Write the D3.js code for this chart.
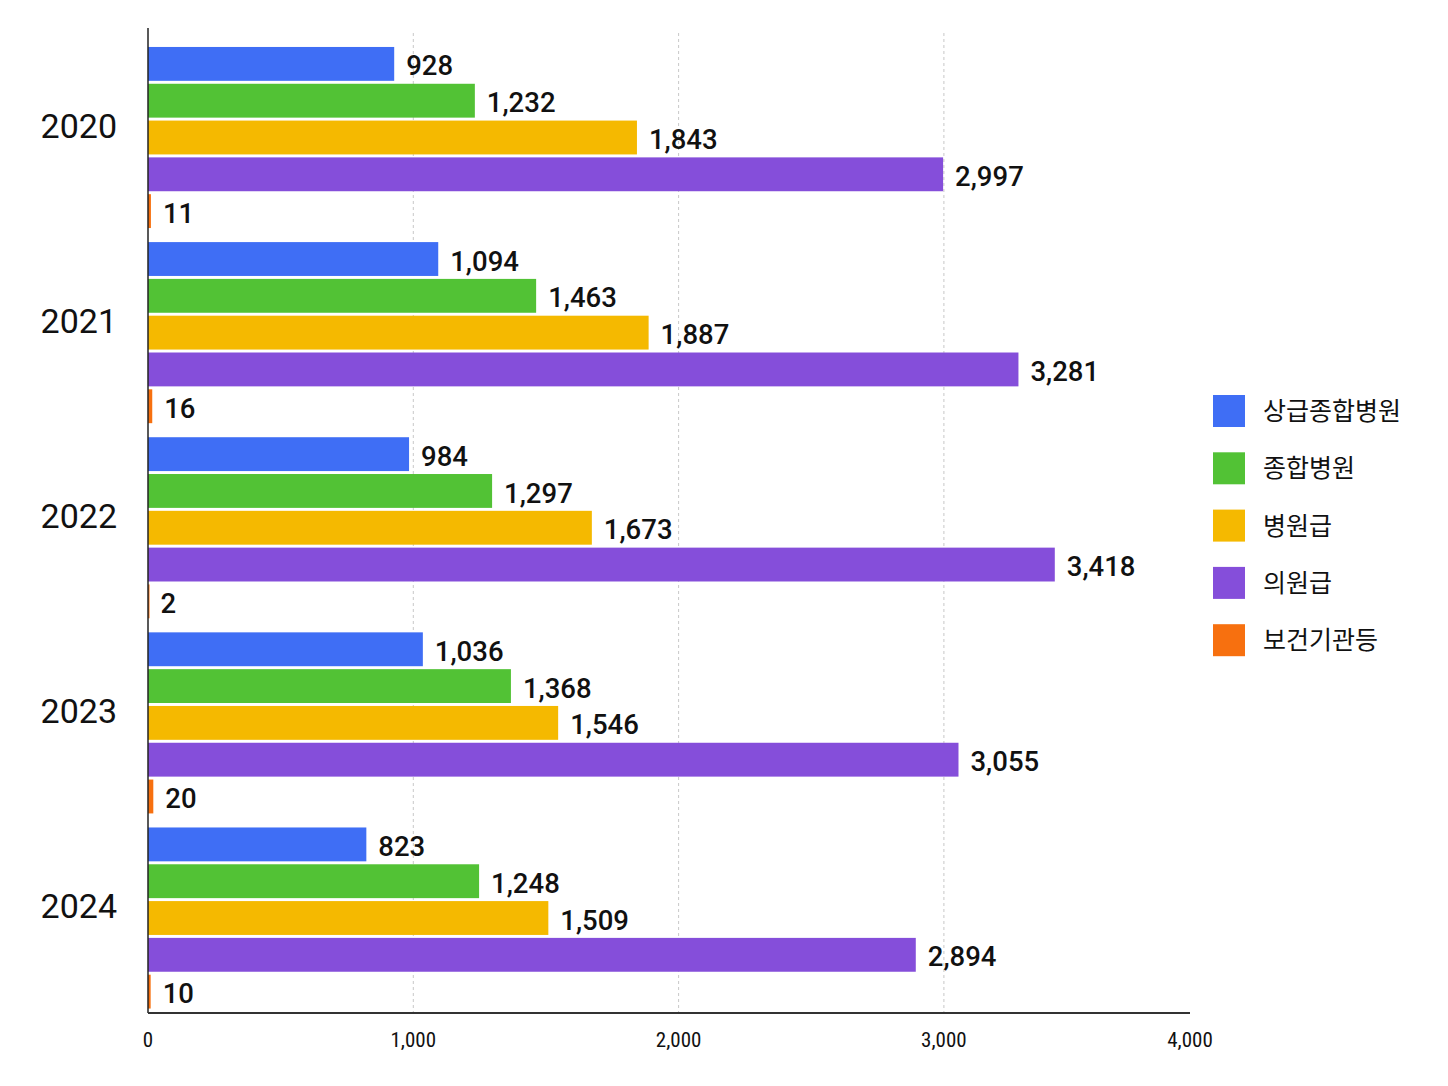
<!DOCTYPE html>
<html>
<head>
<meta charset="utf-8">
<script src="https://cdn.jsdelivr.net/npm/d3@7"></script>
<style>
  body { margin: 0; background: #fff; }
  svg { display: block; }
</style>
</head>
<body>
<svg id="chart" width="1448" height="1086"></svg>
<script>
// data
var years = ["2020", "2021", "2022", "2023", "2024"];
var seriesNames = ["상급종합병원", "종합병원", "병원급", "의원급", "보건기관등"];
var seriesColors = ["#3f6ef5", "#52c235", "#f5b900", "#854eda", "#f7700f"];
var tier1 = [928, 1094, 984, 1036, 823];      // 상급종합병원
var general = [1232, 1463, 1297, 1368, 1248]; // 종합병원
var hospital = [1843, 1887, 1673, 1546, 1509]; // 병원급
var clinic = [2997, 3281, 3418, 3055, 2894];   // 의원급
var publicOrg = [11, 16, 2, 20, 10];          // 보건기관등
var xTicks = [0, 1000, 2000, 3000, 4000];

var seriesValues = [tier1, general, hospital, clinic, publicOrg];

var svg = d3.select("#chart");
// note: "top" is taken by window.top, so plot edges get their own names
var plotLeft = 148, plotTop = 28, plotBottom = 1013, axisEnd = 1190;

var x = d3.scaleLinear().domain([0, 4000]).range([plotLeft, plotLeft + 4 * 265.3]);

var y0 = d3.scaleBand().domain(years).range([plotTop, plotBottom])
  .paddingInner(0.072).paddingOuter(0.06).align(0.81);
var y1 = d3.scaleBand().domain(d3.range(seriesNames.length)).range([0, y0.bandwidth()])
  .paddingInner(0.08).paddingOuter(0);

var fmt = d3.format(",");

// gridlines
svg.append("g")
  .selectAll("line")
  .data(xTicks.filter(function(t) { return t > 0 && x(t) < axisEnd; }))
  .enter().append("line")
  .attr("x1", function(d) { return x(d); })
  .attr("x2", function(d) { return x(d); })
  .attr("y1", plotTop + 5).attr("y2", plotBottom)
  .attr("stroke", "#c8c8c8").attr("stroke-width", 1)
  .attr("stroke-dasharray", "3,3");

// bars
var groups = svg.append("g").selectAll("g")
  .data(years).enter().append("g")
  .attr("transform", function(d) { return "translate(0," + y0(d) + ")"; });

groups.each(function(year, yi) {
  var g = d3.select(this);
  seriesValues.forEach(function(vals, si) {
    var v = vals[yi];
    g.append("rect")
      .attr("x", x(0))
      .attr("y", y1(si))
      .attr("width", Math.max(x(v) - x(0), 1.5))
      .attr("height", y1.bandwidth())
      .attr("fill", seriesColors[si]);
    g.append("text")
      .attr("x", x(v) + 12)
      .attr("y", y1(si) + y1.bandwidth() / 2)
      .attr("dy", "0.42em")
      .attr("font-family", "Roboto, 'Noto Sans', sans-serif")
      .attr("font-weight", 500)
      .attr("font-size", 27.5)
      .attr("fill", "#111")
      .text(fmt(v));
  });
});

// year labels
svg.append("g").selectAll("text")
  .data(years).enter().append("text")
  .attr("x", 117)
  .attr("y", function(d) { return y0(d) + y0.bandwidth() / 2 - 12; })
  .attr("dy", "0.36em")
  .attr("text-anchor", "end")
  .attr("font-family", "Roboto, 'Liberation Sans', sans-serif")
  .attr("font-size", 34)
  .attr("fill", "#111")
  .text(function(d) { return d; });

// axis lines
svg.append("line")
  .attr("x1", plotLeft).attr("x2", plotLeft).attr("y1", plotTop).attr("y2", plotBottom)
  .attr("stroke", "#222").attr("stroke-width", 1.5);
svg.append("line")
  .attr("x1", plotLeft).attr("x2", axisEnd).attr("y1", plotBottom).attr("y2", plotBottom)
  .attr("stroke", "#333").attr("stroke-width", 2);

// x tick labels (last one sits at the axis end)
svg.append("g").selectAll("text")
  .data(xTicks).enter().append("text")
  .attr("x", function(d) { return Math.min(x(d), axisEnd); })
  .attr("y", 1039)
  .attr("dy", "0.36em")
  .attr("text-anchor", "middle")
  .attr("font-family", "'Liberation Sans Narrow', 'Roboto Condensed', sans-serif")
  .attr("font-size", 21)
  .attr("fill", "#111")
  .text(function(d) { return fmt(d); });

// legend
var legend = svg.append("g").attr("transform", "translate(1213,395)");
seriesNames.forEach(function(name, i) {
  var row = legend.append("g").attr("transform", "translate(0," + (i * 57.3) + ")");
  row.append("rect")
    .attr("width", 32).attr("height", 32)
    .attr("fill", seriesColors[i]);
  row.append("text")
    .attr("x", 50).attr("y", 16).attr("dy", "0.36em")
    .attr("font-family", "'Noto Sans CJK KR', sans-serif")
    .attr("font-size", 25)
    .attr("fill", "#111")
    .text(name);
});
</script>
</body>
</html>
